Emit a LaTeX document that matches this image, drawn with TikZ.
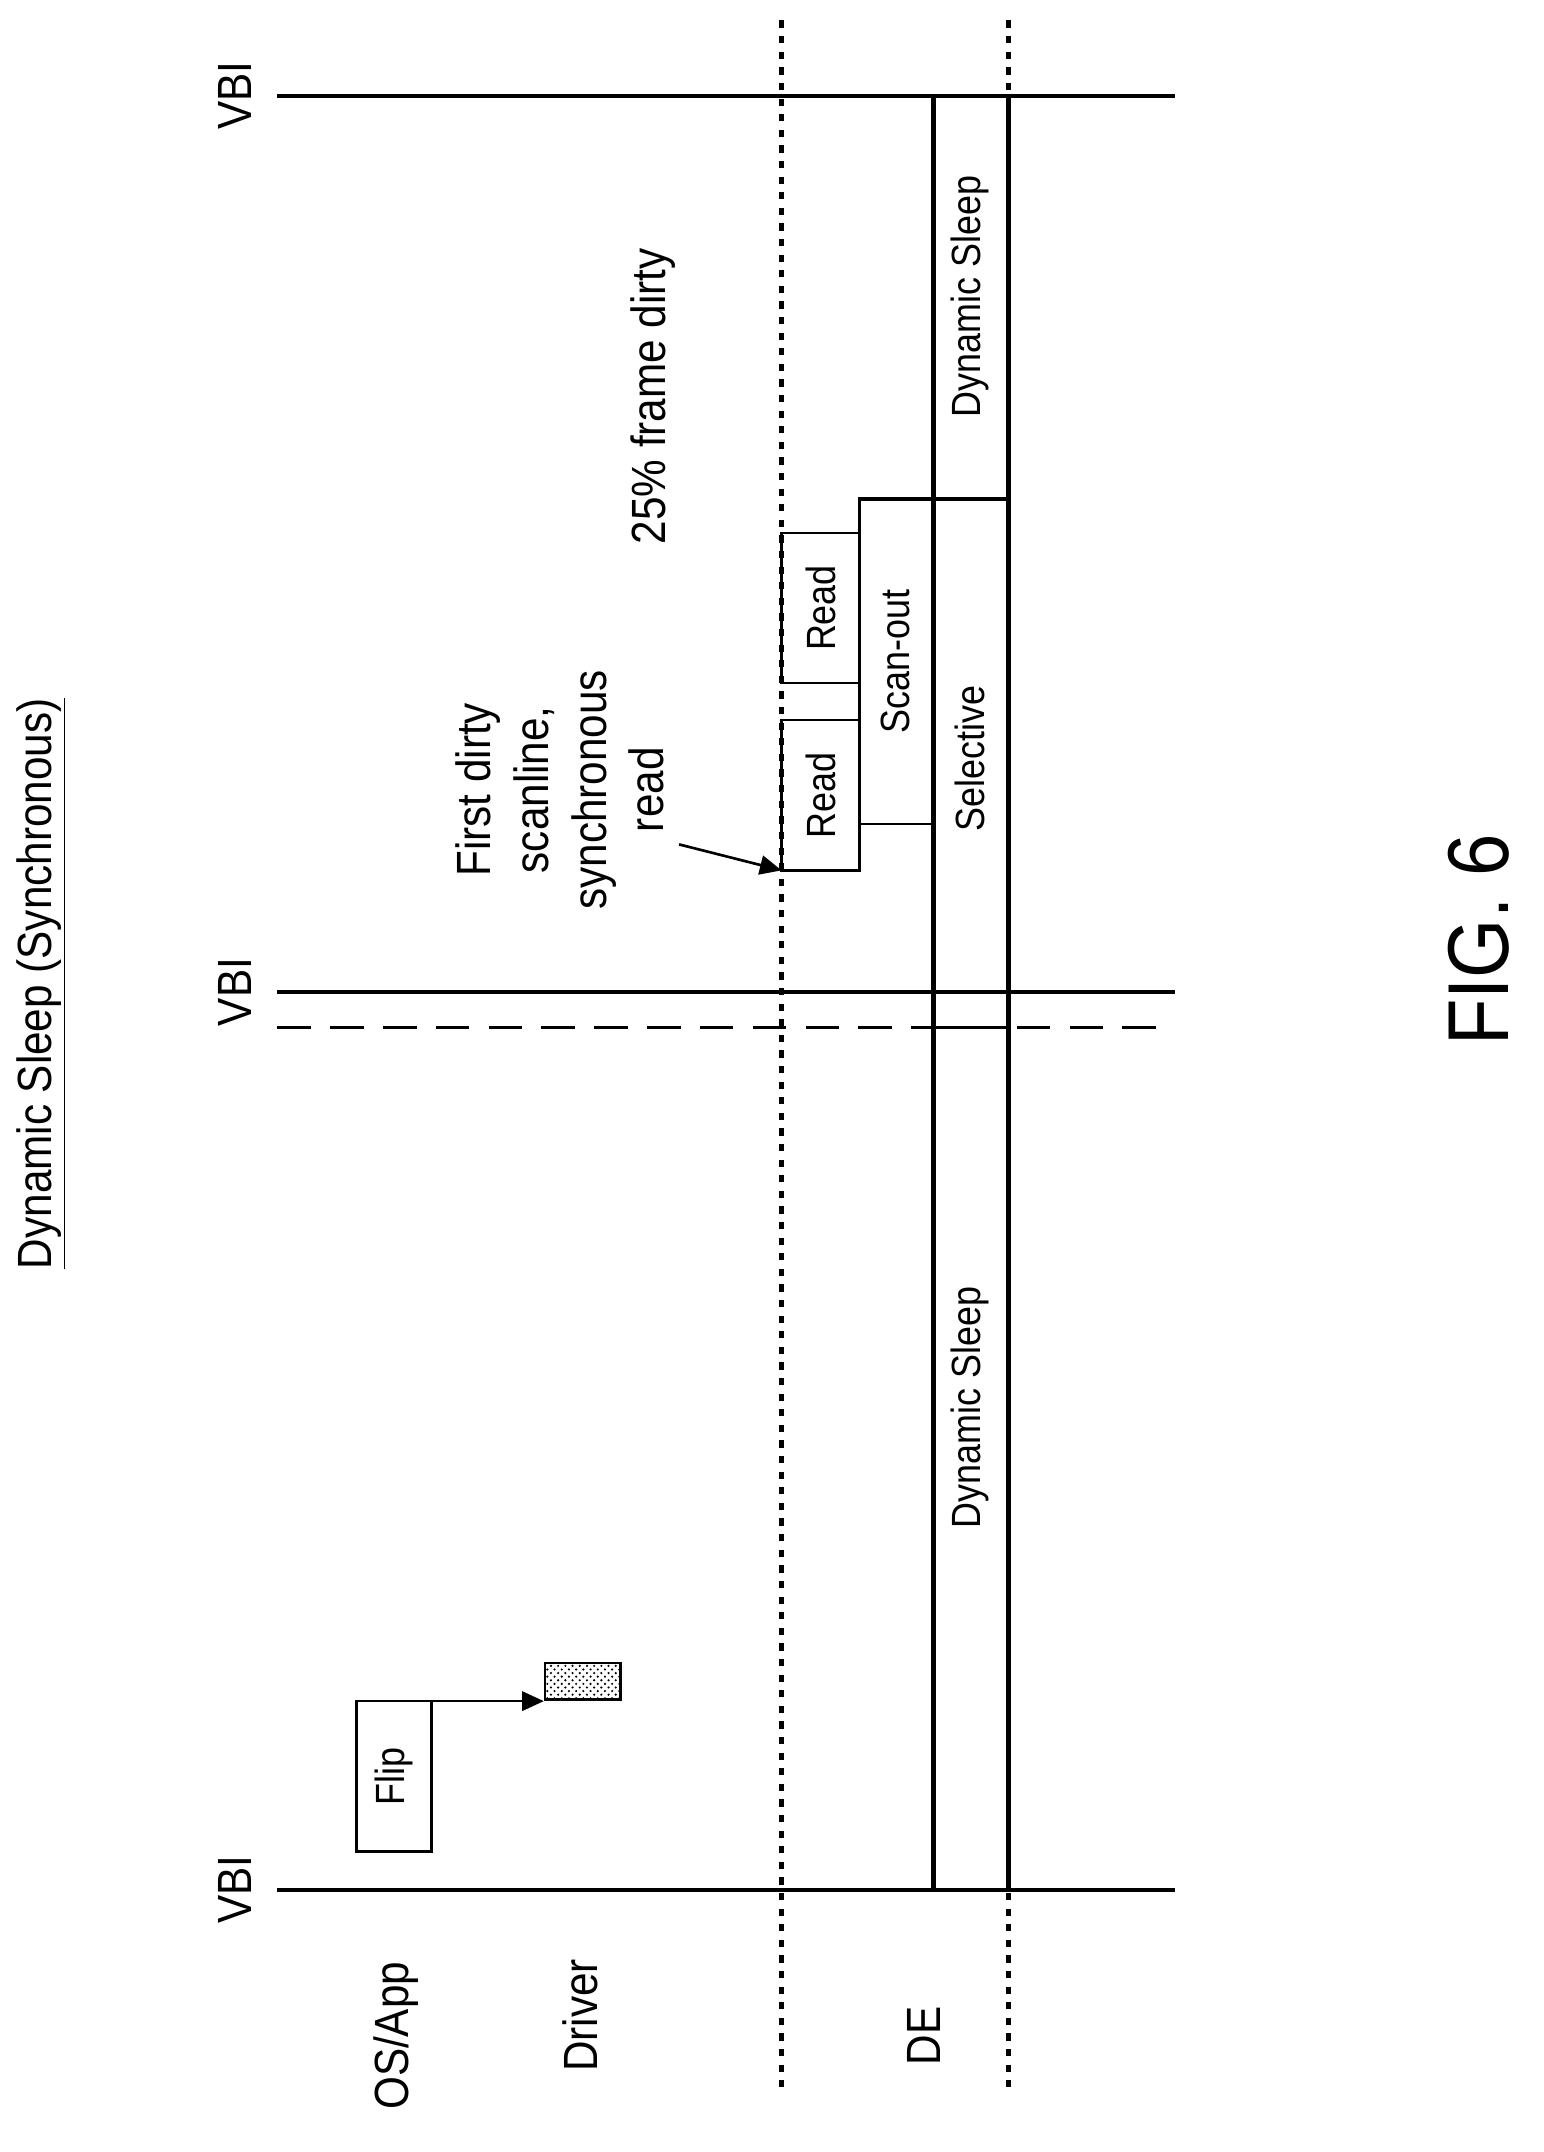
\documentclass[tikz,border=0pt]{standalone}
\usepackage{fontspec}
\setmainfont[FakeStretch=0.88]{Liberation Sans}
\usetikzlibrary{arrows.meta,patterns}
\begin{document}
\begin{tikzpicture}[x=0.02cm,y=-0.02cm,
 lbl/.style={rotate=90,font=\fontsize{17}{20}\selectfont},
 big/.style={rotate=90,font=\fontsize{20}{24}\selectfont},
 thk/.style={line width=1.6pt},
 thn/.style={line width=1.1pt},
 dot/.style={line width=1.8pt,dash pattern=on 3pt off 3.5pt},
 box/.style={draw,line width=1.1pt}]
\useasboundingbox (0,0) rectangle (1130,1575);
% VBI lines
\foreach \y/\n in {70/a,726/b,1383/c}{
  \draw[thk] (203,\y) coordinate (v\n l) -- (860,\y) coordinate (v\n r);
  \node[big] (vbi\n) at (172,\y) {VBI};
}
\coordinate (dl) at (203,752); \coordinate (dr) at (860,752);
\draw[line width=1.6pt,dash pattern=on 14pt off 8pt] (dl) -- (dr);
% dotted verticals
\coordinate (d1t) at (572,15); \coordinate (d1b) at (572,1532);
\coordinate (d2t) at (738,15); \coordinate (d2b) at (738,1532);
\draw[dot] (d1t) -- (d1b);
\draw[dot] (d2t) -- (d2b);
% DE lane
\draw[line width=2pt] (683,70) -- (683,1383);
\draw[line width=2pt] (738,70) -- (738,1383);
\draw[thk] (683,365) -- (738,365);
\draw[thk] (683,752) -- (738,752);
% Scan-out
\draw[thk] (683,365) -- (629,365) -- (629,637);
\draw[thn] (629,603) -- (683,603);
\node[lbl] (scan) at (655,484) {Scan-out};
% Read boxes
\node[box,minimum width=2.2cm,minimum height=1.14cm,rotate=90,font=\fontsize{17}{20}\selectfont] (r1) at (600.5,582) {Read};
\node[box,minimum width=2.2cm,minimum height=1.14cm,rotate=90,font=\fontsize{17}{20}\selectfont] (r2) at (600.5,445) {Read};
\node[lbl] (sel) at (710,555) {Selective};
\node[lbl] (ds1) at (710,217) {Dynamic Sleep};
\node[lbl] (ds2) at (710,1030) {Dynamic Sleep};
% Flip
\node[box,minimum width=2.2cm,minimum height=1.1cm,rotate=90,font=\fontsize{17}{20}\selectfont] (flip) at (288.5,1300) {Flip};
\node[draw,line width=1.1pt,pattern=crosshatch dots,minimum width=1.1cm,minimum height=0.54cm,inner sep=0pt,anchor=south west] (drv) at (398,1245) {};
\coordinate (fa) at (316,1245);
\draw[thn,-{Triangle[length=9pt,width=8pt]}] (fa) -- (drv.south west);
% labels
\node[big] (osapp) at (290,1490) {OS/App};
\node[big] (driver) at (425,1475) {Driver};
\node[big] (de) at (676,1490) {DE};
\node[big,align=center] (fd) at (410,578) {First dirty\\scanline,\\synchronous\\read};
\coordinate (fdt) at (572,637);
\draw[thn,-{Triangle[length=9pt,width=8pt]}] (497,618) -- (fdt);
\node[big] (pct) at (478,290) {25\% frame dirty};
\node[big] (title) at (30,720) {\underline{Dynamic Sleep (Synchronous)}};
\node[rotate=90,font=\fontsize{36}{40}\selectfont] (fig) at (1082,688) {FIG. 6};
\end{tikzpicture}
\end{document}
